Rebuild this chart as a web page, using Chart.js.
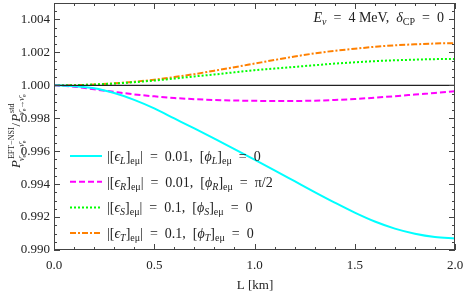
<!DOCTYPE html>
<html>
<head>
<meta charset="utf-8">
<script src="https://cdn.jsdelivr.net/npm/chart.js@4.4.1/dist/chart.umd.min.js"></script>
<style>
  body { margin: 0; background: #fff; }
  canvas { display: block; }
</style>
</head>
<body>
<canvas id="ratioChart" width="463" height="294"></canvas>
<script>
// baseline length in km
const L = [0, 0.1, 0.2, 0.3, 0.4, 0.5, 0.6, 0.7, 0.8, 0.9, 1.0,
           1.1, 1.2, 1.3, 1.4, 1.5, 1.6, 1.7, 1.8, 1.9, 2.0];

// P(EFT-NSI) / P(std)
const ratioL = [1.0, 0.99995, 0.99982, 0.99953, 0.99912, 0.99860, 0.99799, 0.99738, 0.99676, 0.99613, 0.99549,
                0.99484, 0.99418, 0.99352, 0.99288, 0.99227, 0.99173, 0.99130, 0.99099, 0.99079, 0.99070];
const ratioR = [1.0, 0.99992, 0.99976, 0.99960, 0.99945, 0.99933, 0.99923, 0.99916, 0.99911, 0.99908, 0.99906,
                0.99905, 0.99905, 0.99907, 0.99911, 0.99917, 0.99925, 0.99934, 0.99944, 0.99954, 0.99964];
const ratioS = [1.0, 1.00001, 1.00005, 1.00011, 1.00019, 1.00029, 1.00041, 1.00054, 1.00066, 1.00079, 1.00092,
                1.00102, 1.00112, 1.00122, 1.00132, 1.00140, 1.00147, 1.00152, 1.00156, 1.00159, 1.00160];
const ratioT = [1.0, 1.00001, 1.00005, 1.00012, 1.00022, 1.00034, 1.00050, 1.00068, 1.00089, 1.00110, 1.00132,
                1.00154, 1.00175, 1.00194, 1.00210, 1.00222, 1.00234, 1.00243, 1.00249, 1.00254, 1.00256];

const xTicks = [0, 0.5, 1.0, 1.5, 2.0];
const yTicks = [0.990, 0.992, 0.994, 0.996, 0.998, 1.000, 1.002, 1.004];

const SERIF = '"Liberation Serif", "DejaVu Serif", serif';
const SP = '\u2002'; // wider math-ish space

function toPoints(ys) {
    return L.map((x, i) => ({ x: x, y: ys[i] }));
}

// draw a run of text pieces: [text, size, dy, italic]
function drawRich(ctx, x, y, parts) {
    let cx = x;
    parts.forEach(p => {
        ctx.font = (p[3] ? 'italic ' : '') + p[1] + 'px ' + SERIF;
        ctx.fillText(p[0], cx, y + p[2]);
        cx += ctx.measureText(p[0]).width;
    });
    return cx - x;
}

function measureRich(ctx, parts) {
    let w = 0;
    parts.forEach(p => {
        ctx.font = (p[3] ? 'italic ' : '') + p[1] + 'px ' + SERIF;
        w += ctx.measureText(p[0]).width;
    });
    return w;
}

function legendParts(sym, val, phase) {
    return [
        ['|[', 14, 0, false], ['ϵ', 14, 0, true], [sym, 10, 3, true], [']', 14, 0, false],
        ['eμ', 10, 3, false], ['|' + SP + '=' + SP + val + ',' + SP + '[', 14, 0, false], ['ϕ', 14, 0, true],
        [sym, 10, 3, true], [']', 14, 0, false], ['eμ', 10, 3, false], [SP + '=' + SP + phase, 14, 0, false]
    ];
}

const legendItems = [
    { color: 'rgb(0,255,255)', dash: [], parts: legendParts('L', '0.01', '0') },
    { color: 'rgb(255,0,255)', dash: [6, 3], parts: legendParts('R', '0.01', 'π/2') },
    { color: 'rgb(0,255,0)', dash: [2, 2], parts: legendParts('S', '0.1', '0') },
    { color: 'rgb(255,128,0)', dash: [6, 2, 2, 2], parts: legendParts('T', '0.1', '0') }
];

// subscript used under both P's of the y title
const flavourSub = [['ν̄', 8, 0, true], ['e', 6, 2, false], ['→', 8, 0, false], ['ν̄', 8, 0, true], ['e', 6, 2, false]];

function drawP(ctx, x, y, sup) {
    ctx.font = 'italic 13px ' + SERIF;
    ctx.fillText('P', x, y);
    const w = ctx.measureText('P').width;
    const supW = drawRich(ctx, x + w + 1, y - 6, [[sup, 8, 0, false]]);
    const subW = drawRich(ctx, x + w - 1, y + 4, flavourSub);
    return w + Math.max(supW + 1, subW - 1);
}

const decorPlugin = {
    id: 'decor',
    afterDatasetsDraw(chart) {
        const ctx = chart.ctx;
        const area = chart.chartArea;
        const xs = chart.scales.x, ys = chart.scales.y;
        ctx.save();
        // frame
        ctx.strokeStyle = '#444';
        ctx.lineWidth = 1;
        ctx.strokeRect(area.left + 0.5, area.top + 0.5, area.right - area.left - 1, area.bottom - area.top - 1);
        // inside ticks
        ctx.beginPath();
        for (let i = 0; i <= 20; i++) {
            const px = Math.round(xs.getPixelForValue(i * 0.1)) + 0.5;
            const len = i % 5 === 0 ? 6 : 3;
            ctx.moveTo(px, area.bottom); ctx.lineTo(px, area.bottom - len);
            ctx.moveTo(px, area.top); ctx.lineTo(px, area.top + len);
        }
        for (let i = 0; i <= 30; i++) {
            const py = Math.round(ys.getPixelForValue(0.990 + i * 0.0005)) + 0.5;
            const len = i % 4 === 0 ? 6 : 3;
            ctx.moveTo(area.left, py); ctx.lineTo(area.left + len, py);
            ctx.moveTo(area.right, py); ctx.lineTo(area.right - len, py);
        }
        ctx.stroke();
        ctx.restore();
    },
    afterDraw(chart) {
        const ctx = chart.ctx;
        ctx.save();
        ctx.fillStyle = '#222';
        ctx.textBaseline = 'alphabetic';

        // legend
        legendItems.forEach((item, i) => {
            const y = 156 + i * 25.7;
            ctx.strokeStyle = item.color;
            ctx.lineWidth = 2;
            ctx.setLineDash(item.dash);
            ctx.beginPath();
            ctx.moveTo(70, y); ctx.lineTo(102, y);
            ctx.stroke();
            ctx.setLineDash([]);
            drawRich(ctx, 107, y + 5, item.parts);
        });

        // energy / phase note, right aligned
        const note = [
            ['E', 14, 0, true], ['ν', 10, 3, true], [SP + '=' + SP + '4 MeV,' + SP, 14, 0, false],
            ['δ', 14, 0, true], ['CP', 10, 3, false], [SP + '=' + SP + '0', 14, 0, false]
        ];
        drawRich(ctx, 444 - measureRich(ctx, note), 22, note);

        // x title
        ctx.font = '13px ' + SERIF;
        ctx.textAlign = 'center';
        ctx.fillText('L [km]', 255, 289);
        ctx.textAlign = 'left';

        // y title, rotated
        ctx.translate(20, 168);
        ctx.rotate(-Math.PI / 2);
        let cx = drawP(ctx, 0, 0, 'EFT−NSI');
        ctx.font = '13px ' + SERIF;
        ctx.fillText('/', cx + 1, 0);
        cx += ctx.measureText('/').width + 2;
        drawP(ctx, cx, 0, 'std');
        ctx.restore();
    }
};

const ctx = document.getElementById('ratioChart').getContext('2d');
new Chart(ctx, {
    type: 'line',
    data: {
        datasets: [
            { data: [{ x: 0, y: 1 }, { x: 2, y: 1 }], borderColor: '#222', borderWidth: 1.2, pointRadius: 0 },
            { data: toPoints(ratioL), borderColor: 'rgb(0,255,255)', borderWidth: 2, pointRadius: 0 },
            { data: toPoints(ratioR), borderColor: 'rgb(255,0,255)', borderWidth: 2, borderDash: [6, 3], pointRadius: 0 },
            { data: toPoints(ratioS), borderColor: 'rgb(0,255,0)', borderWidth: 2, borderDash: [2, 2], pointRadius: 0 },
            { data: toPoints(ratioT), borderColor: 'rgb(255,128,0)', borderWidth: 2, borderDash: [6, 2, 2, 2], pointRadius: 0 }
        ]
    },
    options: {
        responsive: false,
        animation: false,
        layout: { padding: { top: 3, right: 8, left: 0, bottom: 0 } },
        elements: { line: { cubicInterpolationMode: 'monotone' } },
        plugins: { legend: { display: false }, tooltip: { enabled: false } },
        scales: {
            x: {
                type: 'linear', min: 0, max: 2,
                afterBuildTicks: s => { s.ticks = xTicks.map(v => ({ value: v })); },
                afterFit: s => { s.height = 44; s.paddingLeft = 0; s.paddingRight = 0; },
                grid: { display: false, drawTicks: false },
                border: { display: false },
                ticks: {
                    padding: 8, color: '#222', maxRotation: 0,
                    font: { family: SERIF, size: 13 },
                    callback: v => v.toFixed(1)
                }
            },
            y: {
                type: 'linear', min: 0.990, max: 1.005,
                afterBuildTicks: s => { s.ticks = yTicks.map(v => ({ value: v })); },
                afterFit: s => { s.width = 54; s.paddingTop = 0; s.paddingBottom = 0; },
                grid: { display: false, drawTicks: false },
                border: { display: false },
                ticks: {
                    padding: 4, color: '#222',
                    font: { family: SERIF, size: 13 },
                    callback: v => v.toFixed(3)
                }
            }
        }
    },
    plugins: [decorPlugin]
});
</script>
</body>
</html>
